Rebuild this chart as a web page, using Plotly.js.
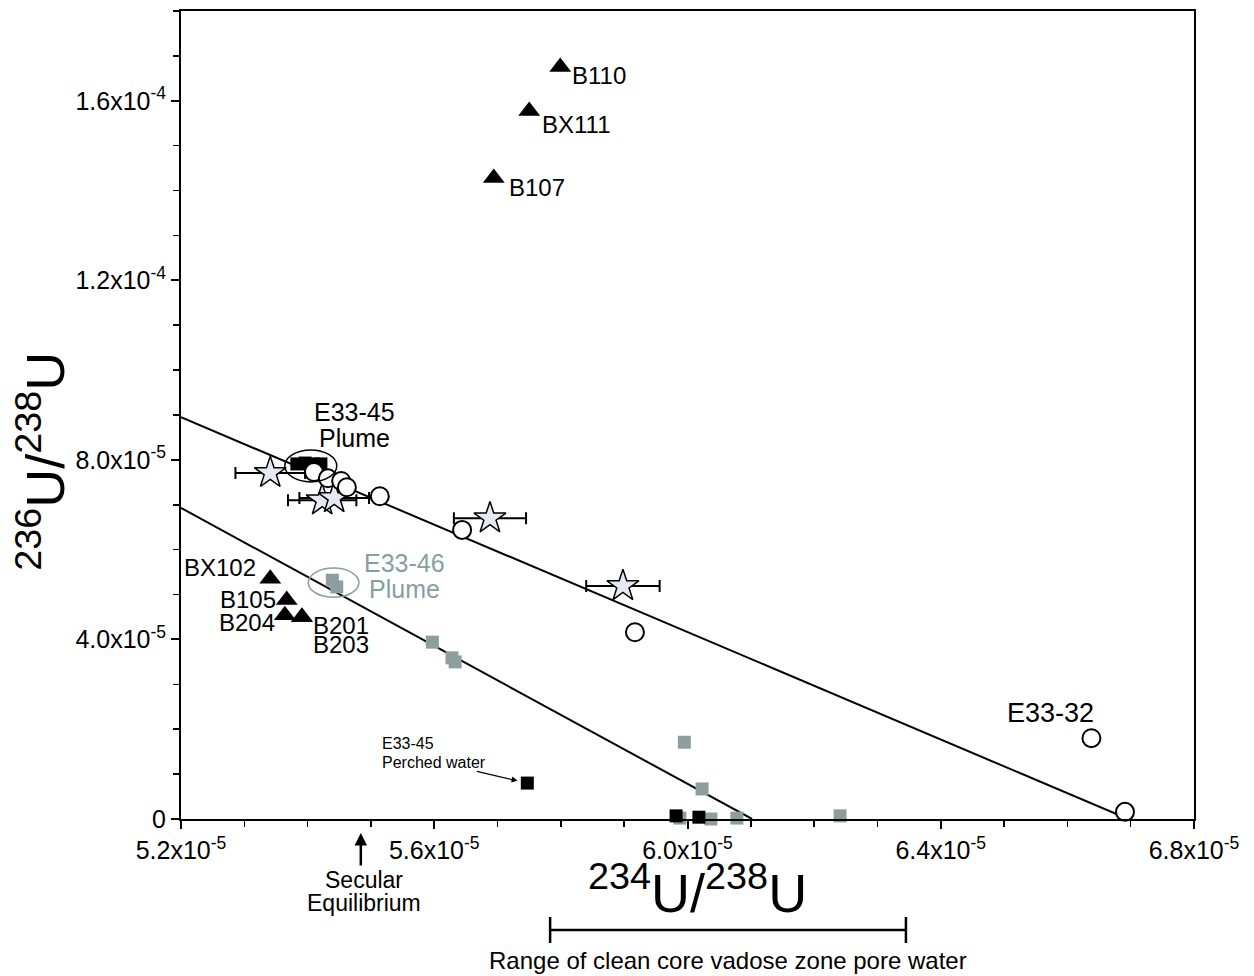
<!DOCTYPE html>
<html>
<head>
<meta charset="utf-8">
<script src="https://cdn.plot.ly/plotly-3.0.1.min.js"></script>
<style>html,body{margin:0;padding:0;background:#fff;}#chart{width:1254px;height:976px;}</style>
</head>
<body>
<div id="chart"></div>
<script>
// ---------- data (234U/238U on x, 236U/238U on y) ----------
const triNames = ['B110','BX111','B107','BX102','B105','B204','B201','B203'];
const triX = [5.799e-5, 5.750e-5, 5.694e-5, 5.341e-5, 5.367e-5, 5.364e-5, 5.391e-5, 5.391e-5];
const triY = [1.675e-4, 1.577e-4, 1.428e-4, 5.35e-5, 4.88e-5, 4.54e-5, 4.50e-5, 4.50e-5];

const circleX = [5.410e-5, 5.432e-5, 5.453e-5, 5.462e-5, 5.514e-5, 5.644e-5, 5.917e-5, 6.638e-5, 6.691e-5];
const circleY = [7.73e-5, 7.59e-5, 7.53e-5, 7.39e-5, 7.19e-5, 6.44e-5, 4.16e-5, 1.80e-5, 0.16e-5];

const starX = [5.341e-5, 5.423e-5, 5.442e-5, 5.688e-5, 5.898e-5];
const starY = [7.71e-5, 7.10e-5, 7.15e-5, 6.70e-5, 5.19e-5];
const starXErr = [0.55e-6, 0.54e-6, 0.55e-6, 0.57e-6, 0.58e-6];

const blackSqX = [5.383e-5, 5.396e-5, 5.409e-5, 5.421e-5, 5.747e-5, 5.982e-5, 6.018e-5];
const blackSqY = [7.91e-5, 7.93e-5, 7.91e-5, 7.91e-5, 0.80e-5, 0.07e-5, 0.04e-5];

const graySqX = [5.439e-5, 5.446e-5, 5.597e-5, 5.628e-5, 5.633e-5, 5.995e-5, 6.023e-5, 5.988e-5, 6.037e-5, 6.078e-5, 6.241e-5];
const graySqY = [5.32e-5, 5.17e-5, 3.94e-5, 3.59e-5, 3.50e-5, 1.71e-5, 0.67e-5, 0.02e-5, 0.00e-5, 0.02e-5, 0.07e-5];

const upperLineX = [5.2e-5, 6.696e-5];
const upperLineY = [8.95e-5, 0];
const lowerLineX = [5.2e-5, 6.102e-5];
const lowerLineY = [6.93e-5, 0];

const plume45Ellipse = {x: [5.364e-5, 5.446e-5], y: [7.51e-5, 8.22e-5]};
const plume46Ellipse = {x: [5.401e-5, 5.481e-5], y: [4.94e-5, 5.59e-5]};

const secularEquilibriumX = 5.484e-5;
const cleanCoreRange = [5.783e-5, 6.345e-5];
const perchedWater = {x: 5.747e-5, y: 0.80e-5};
const e3332 = {x: 6.638e-5, y: 1.80e-5};

const xTickVals = [5.2e-5, 5.6e-5, 6.0e-5, 6.4e-5, 6.8e-5];
const xTickText = ['5.2x10<sup>-5</sup>', '5.6x10<sup>-5</sup>', '6.0x10<sup>-5</sup>', '6.4x10<sup>-5</sup>', '6.8x10<sup>-5</sup>'];
const yTickVals = [0, 4e-5, 8e-5, 1.2e-4, 1.6e-4];
const yTickText = ['0', '4.0x10<sup>-5</sup>', '8.0x10<sup>-5</sup>', '1.2x10<sup>-4</sup>', '1.6x10<sup>-4</sup>'];

// ---------- styling ----------
const FONT = 'Liberation Sans, Arial, sans-serif';
const GRAY = '#8c9e9e';
const GRAY_TEXT = '#86a0a0';

const xMinor = []; for (let i = 52; i <= 68; i++) xMinor.push(i * 1e-6);
const yMinor = []; for (let i = 0; i <= 18; i++) yMinor.push(i * 1e-5);

const traces = [
  {x: upperLineX, y: upperLineY, mode: 'lines', line: {color: 'black', width: 2}, hoverinfo: 'skip', cliponaxis: false},
  {x: lowerLineX, y: lowerLineY, mode: 'lines', line: {color: 'black', width: 2}, hoverinfo: 'skip', cliponaxis: false},
  {x: graySqX, y: graySqY, mode: 'markers', marker: {symbol: 'square', size: 13, color: GRAY}, cliponaxis: false},
  {x: blackSqX, y: blackSqY, mode: 'markers', marker: {symbol: 'square', size: 13, color: 'black'}, cliponaxis: false},
  {x: starX, y: starY, mode: 'markers', marker: {symbol: 'star', size: 24, color: '#e4e9f2', line: {color: 'black', width: 1.5}},
   error_x: {type: 'data', array: starXErr, visible: true, color: 'black', thickness: 2, width: 6}, cliponaxis: false},
  {x: circleX, y: circleY, mode: 'markers', marker: {symbol: 'circle', size: 18, color: 'white', line: {color: 'black', width: 2}}, cliponaxis: false},
  {x: triX, y: triY, mode: 'markers', marker: {symbol: 'triangle-up', size: 19, color: 'black'}, cliponaxis: false}
];

// label offsets (pixels) for triangle names
const triLabelStyle = [
  {dx: 10, dy: -8, anchor: 'left'},
  {dx: 11, dy: -13, anchor: 'left'},
  {dx: 13, dy: -10, anchor: 'left'},
  {dx: -12, dy: 11, anchor: 'right'},
  {dx: -9, dy: 0, anchor: 'right'},
  {dx: -8, dy: -7, anchor: 'right'},
  {dx: 9, dy: -8, anchor: 'left'},
  {dx: 9, dy: -27, anchor: 'left'}
];

const annotations = triNames.map((n, i) => ({
  x: triX[i], y: triY[i], xref: 'x', yref: 'y', text: n, showarrow: false,
  xanchor: triLabelStyle[i].anchor, yanchor: 'middle',
  xshift: triLabelStyle[i].dx, yshift: triLabelStyle[i].dy,
  font: {family: FONT, size: 24, color: 'black'}
}));

const e45cx = (plume45Ellipse.x[0] + plume45Ellipse.x[1]) / 2, e45cy = (plume45Ellipse.y[0] + plume45Ellipse.y[1]) / 2;
const e46cx = (plume46Ellipse.x[0] + plume46Ellipse.x[1]) / 2, e46cy = (plume46Ellipse.y[0] + plume46Ellipse.y[1]) / 2;

function txt(x, y, text, dx, dy, size, color, extra) {
  return Object.assign({x: x, y: y, text: text, showarrow: false, xanchor: 'center', yanchor: 'middle',
    xshift: dx, yshift: dy, font: {family: FONT, size: size, color: color || 'black'}}, extra || {});
}

annotations.push(
  txt(e45cx, e45cy, 'E33-45', 44, 54, 25),
  txt(e45cx, e45cy, 'Plume', 44, 28, 25),
  txt(e46cx, e46cy, 'E33-46', 71, 20, 25, GRAY_TEXT),
  txt(e46cx, e46cy, 'Plume', 71, -6, 25, GRAY_TEXT),
  txt(e3332.x, e3332.y, 'E33-32', -41, 25, 27),
  // perched water arrow and label
  {x: perchedWater.x, y: perchedWater.y, text: '', showarrow: true, arrowhead: 2, arrowsize: 1, arrowwidth: 1.2,
   arrowcolor: 'black', ax: -52, ay: -12, standoff: 10},
  txt(perchedWater.x, perchedWater.y, 'E33-45', -147, 40, 16, 'black', {xanchor: 'left'}),
  txt(perchedWater.x, perchedWater.y, 'Perched water', -147, 21, 16, 'black', {xanchor: 'left'}),
  // secular equilibrium
  {x: secularEquilibriumX, y: 0, xref: 'x', yref: 'paper', text: '', showarrow: true, arrowhead: 2, arrowsize: 1,
   arrowwidth: 2.5, arrowcolor: 'black', ax: 0, ay: 48, standoff: 14},
  txt(secularEquilibriumX, 0, 'Secular', 3, -61, 23, 'black', {xref: 'x', yref: 'paper'}),
  txt(secularEquilibriumX, 0, 'Equilibrium', 3, -84, 23, 'black', {xref: 'x', yref: 'paper'}),
  // range label
  txt((cleanCoreRange[0] + cleanCoreRange[1]) / 2, 0, 'Range of clean core vadose zone pore water', 0, -141, 24, 'black', {xref: 'x', yref: 'paper'}),
  // axis titles
  txt(0.5, 0, '<sup>234</sup>U/<sup>238</sup>U', 10, -70, 54, 'black', {xref: 'paper', yref: 'paper'}),
  txt(0, 0.442, '<sup>236</sup>U/<sup>238</sup>U', -140, 0, 54, 'black', {xref: 'paper', yref: 'paper', textangle: -90})
);

const shapes = [
  {type: 'circle', xref: 'x', yref: 'y', x0: plume45Ellipse.x[0], x1: plume45Ellipse.x[1], y0: plume45Ellipse.y[0], y1: plume45Ellipse.y[1],
   line: {color: 'black', width: 1.5}},
  {type: 'circle', xref: 'x', yref: 'y', x0: plume46Ellipse.x[0], x1: plume46Ellipse.x[1], y0: plume46Ellipse.y[0], y1: plume46Ellipse.y[1],
   line: {color: GRAY, width: 1.5}},
  // clean core range bar
  {type: 'line', xref: 'x', yref: 'paper', x0: cleanCoreRange[0], x1: cleanCoreRange[1], y0: -0.1374, y1: -0.1374, line: {color: 'black', width: 2.5}},
  {type: 'line', xref: 'x', yref: 'paper', x0: cleanCoreRange[0], x1: cleanCoreRange[0], y0: -0.1213, y1: -0.1535, line: {color: 'black', width: 2.5}},
  {type: 'line', xref: 'x', yref: 'paper', x0: cleanCoreRange[1], x1: cleanCoreRange[1], y0: -0.1213, y1: -0.1535, line: {color: 'black', width: 2.5}}
];

const layout = {
  width: 1254, height: 976,
  margin: {l: 181, r: 60, t: 11, b: 157},
  paper_bgcolor: 'white', plot_bgcolor: 'white',
  showlegend: false,
  font: {family: FONT, color: 'black'},
  xaxis: {
    range: [5.2e-5, 6.8e-5], tickmode: 'array', tickvals: xTickVals, ticktext: xTickText,
    ticks: 'outside', ticklen: 8, tickwidth: 2, tickcolor: 'black',
    showline: true, linewidth: 2, linecolor: 'black', mirror: true,
    showgrid: false, zeroline: false,
    tickfont: {family: FONT, size: 25, color: 'black'},
    minor: {tickmode: 'array', tickvals: xMinor, ticks: 'outside', ticklen: 6, tickwidth: 1.5, tickcolor: 'black', showgrid: false}
  },
  yaxis: {
    range: [0, 1.8e-4], tickmode: 'array', tickvals: yTickVals, ticktext: yTickText,
    ticks: 'outside', ticklen: 8, tickwidth: 2, tickcolor: 'black',
    showline: true, linewidth: 2, linecolor: 'black', mirror: true,
    showgrid: false, zeroline: false,
    tickfont: {family: FONT, size: 25, color: 'black'},
    minor: {tickmode: 'array', tickvals: yMinor, ticks: 'outside', ticklen: 6, tickwidth: 1.5, tickcolor: 'black', showgrid: false}
  },
  annotations: annotations,
  shapes: shapes
};

Plotly.newPlot('chart', traces, layout, {staticPlot: true, displayModeBar: false});
</script>
</body>
</html>
